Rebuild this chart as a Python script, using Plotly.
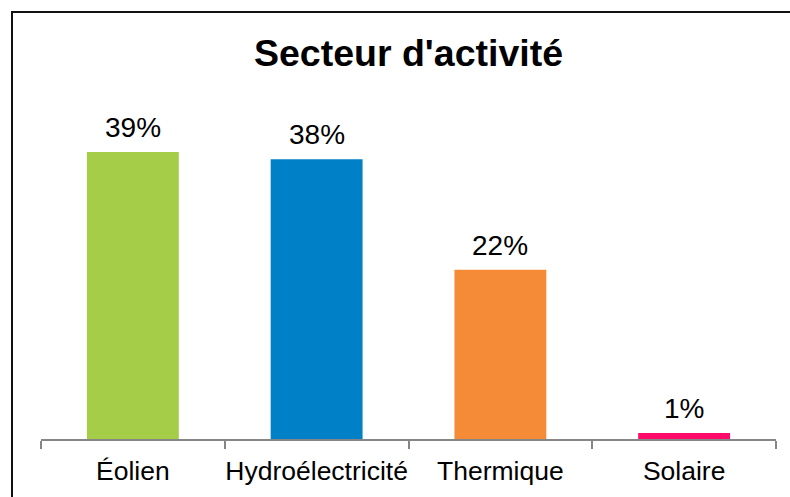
import plotly.graph_objects as go

categories = ["Éolien", "Hydroélectricité", "Thermique", "Solaire"]
values = [39, 38, 23, 0.8]
value_labels = ["39%", "38%", "22%", "1%"]
colors = ["#A5CD48", "#0080C6", "#F68B37", "#FF0A6A"]
title_text = "Secteur d'activité"

W, H = 790, 497
L, R = 41, W - 776
T, B = 100, H - 439
plot_h = H - T - B
ymax = 39 * plot_h / 287.0

fig = go.Figure()
fig.add_trace(go.Bar(
    x=categories, y=values, marker=dict(color=colors, line=dict(width=0)),
    hoverinfo="skip",
))
for c, v, t in zip(categories, values, value_labels):
    fig.add_annotation(x=c, y=v, text=t, showarrow=False, yanchor="bottom", yshift=7,
                       font=dict(family="Liberation Sans, Arial", size=28, color="#000000"))

fx = lambda px: (px - L) / (W - L - R)
fy = lambda py: (H - B - py) / plot_h
frame = dict(color="#111111", width=2)
fig.add_shape(type="line", xref="paper", yref="paper",
              x0=fx(12), x1=fx(800), y0=fy(12), y1=fy(12), line=frame, layer="above")
fig.add_shape(type="line", xref="paper", yref="paper",
              x0=fx(12), x1=fx(12), y0=fy(11), y1=fy(510), line=frame, layer="above")

fig.update_layout(
    width=W, height=H,
    margin=dict(l=L, r=R, t=T, b=B, pad=0, autoexpand=False),
    paper_bgcolor="white", plot_bgcolor="white",
    bargap=0.5,
    showlegend=False,
    title=dict(text="<b>" + title_text + "</b>", xref="paper", x=fx(408.5), xanchor="center",
               yref="container", y=1 - 53 / H, yanchor="middle",
               font=dict(family="Liberation Sans, Arial", size=37.5, color="#000000")),
    xaxis=dict(showline=True, linecolor="#868686", linewidth=2,
               ticks="outside", tickson="boundaries", ticklen=8, tickwidth=2, tickcolor="#868686",
               tickangle=0, automargin=False, ticklabelstandoff=7,
               tickfont=dict(family="Liberation Sans, Arial", size=26.5, color="#000000"),
               showgrid=False, zeroline=False, fixedrange=True),
    yaxis=dict(visible=False, range=[0, ymax], showgrid=False, zeroline=False, fixedrange=True),
)
fig.write_html("out.html", config={"displayModeBar": False},
               post_script="document.body.style.margin='0';document.body.style.overflow='hidden';")
